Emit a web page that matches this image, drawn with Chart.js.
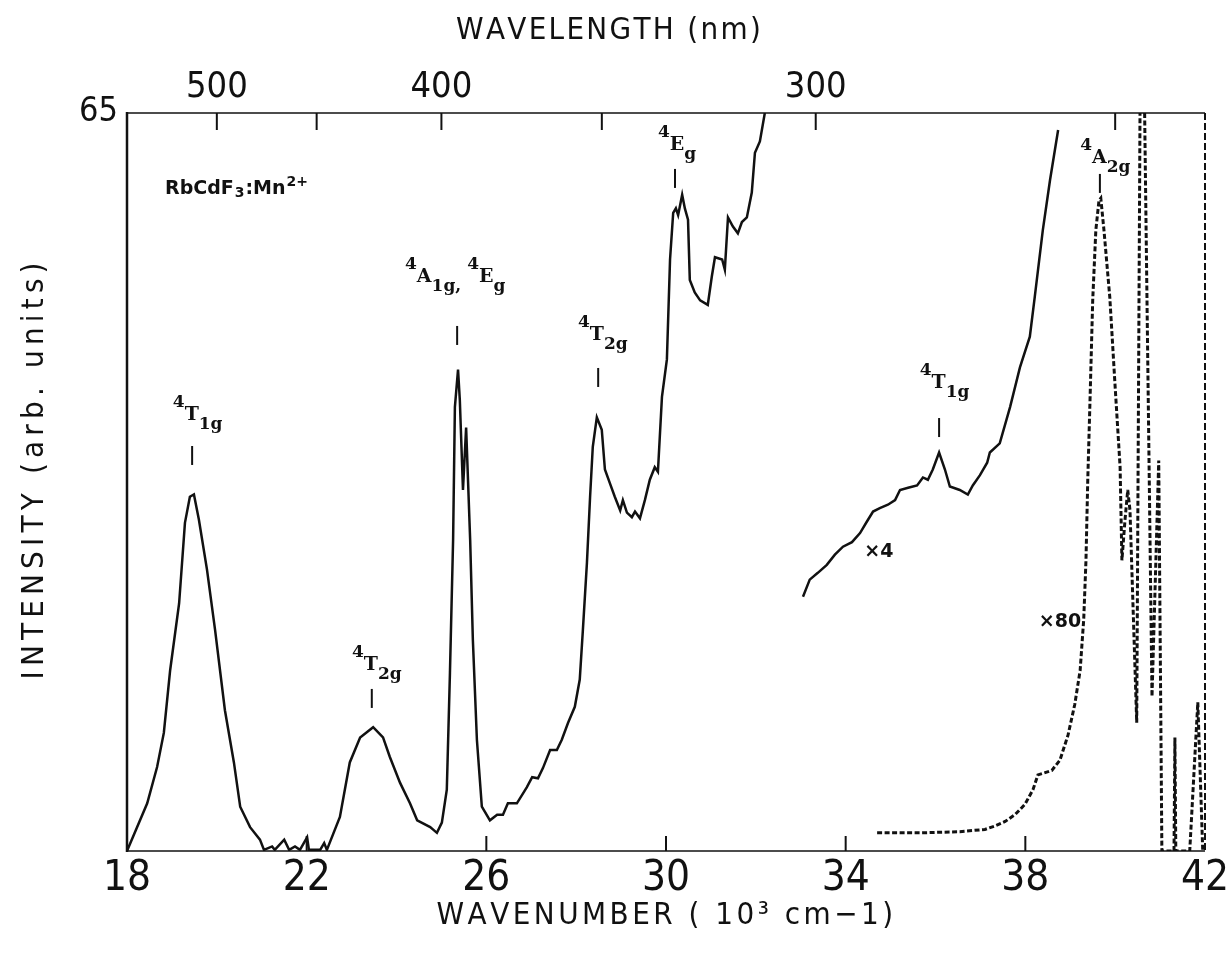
<!DOCTYPE html>
<html>
<head>
<meta charset="utf-8">
<script src="https://cdn.jsdelivr.net/npm/chart.js@4.4.1/dist/chart.umd.min.js"></script>
<style>
  body { margin: 0; background: #fff; }
  #spectrum { display: block; }
</style>
</head>
<body>
<canvas id="spectrum" width="1228" height="956"></canvas>
<script>
// main spectrum, wavenumber in 10^3 cm-1, intensity in arb. units
const mainX = [18.00, 18.45, 18.67, 18.82, 18.96, 19.16, 19.29, 19.40, 19.49, 19.60, 19.78, 19.96, 20.18, 20.38, 20.52, 20.74, 20.96, 21.05, 21.23, 21.29, 21.50, 21.61, 21.74, 21.85, 22.01, 22.05, 22.30, 22.39, 22.45, 22.74, 22.96, 23.19, 23.48, 23.70, 23.85, 24.08, 24.30, 24.46, 24.75, 24.90, 25.01, 25.12, 25.19, 25.26, 25.30, 25.37, 25.41, 25.48, 25.55, 25.64, 25.70, 25.79, 25.90, 26.08, 26.24, 26.37, 26.48, 26.68, 26.90, 27.02, 27.15, 27.26, 27.42, 27.57, 27.68, 27.82, 27.97, 28.08, 28.15, 28.24, 28.31, 28.37, 28.46, 28.57, 28.64, 28.75, 28.86, 28.98, 29.04, 29.13, 29.24, 29.31, 29.42, 29.53, 29.64, 29.75, 29.82, 29.91, 30.02, 30.09, 30.16, 30.22, 30.27, 30.36, 30.42, 30.49, 30.53, 30.64, 30.76, 30.93, 31.02, 31.09, 31.25, 31.31, 31.38, 31.49, 31.60, 31.69, 31.80, 31.91, 31.98, 32.09, 32.20];
const mainY = [0.0, 4.2, 7.4, 10.4, 15.9, 21.8, 28.9, 31.2, 31.4, 29.2, 24.8, 19.5, 12.4, 7.8, 3.9, 2.1, 1.0, 0.1, 0.4, 0.1, 1.0, 0.1, 0.4, 0.1, 1.2, 0.1, 0.1, 0.7, 0.1, 3.0, 7.8, 10.0, 10.9, 10.0, 8.3, 6.0, 4.2, 2.7, 2.1, 1.6, 2.5, 5.4, 15.7, 27.4, 39.1, 42.4, 39.7, 31.8, 37.3, 27.4, 18.6, 9.8, 3.9, 2.7, 3.2, 3.2, 4.2, 4.2, 5.6, 6.5, 6.4, 7.3, 8.9, 8.9, 9.8, 11.3, 12.7, 15.1, 19.5, 25.4, 31.2, 35.6, 38.2, 37.1, 33.6, 32.4, 31.2, 30.0, 30.9, 29.8, 29.4, 29.9, 29.3, 30.9, 32.7, 33.8, 33.4, 40.0, 43.3, 52.1, 56.2, 56.6, 56.0, 57.8, 56.6, 55.6, 50.3, 49.2, 48.5, 48.1, 50.6, 52.3, 52.1, 51.2, 55.8, 55.0, 54.4, 55.4, 55.8, 58.0, 61.5, 62.5, 65.0];

// section recorded at x4
const x4X = [33.05, 33.20, 33.38, 33.58, 33.76, 33.94, 34.14, 34.32, 34.47, 34.61, 34.76, 34.94, 35.10, 35.21, 35.39, 35.59, 35.72, 35.83, 35.94, 36.08, 36.21, 36.32, 36.54, 36.72, 36.83, 36.99, 37.15, 37.21, 37.43, 37.66, 37.88, 38.10, 38.21, 38.39, 38.55, 38.73];
const x4Y = [22.4, 23.9, 24.5, 25.2, 26.1, 26.8, 27.2, 28.0, 29.0, 29.9, 30.2, 30.5, 30.9, 31.8, 32.0, 32.2, 32.9, 32.7, 33.6, 35.1, 33.6, 32.1, 31.8, 31.4, 32.2, 33.1, 34.2, 35.1, 35.9, 39.1, 42.6, 45.3, 48.8, 54.7, 59.1, 63.5];

// section recorded at x80 (dashed)
const x80X = [34.70, 35.65, 36.54, 37.10, 37.32, 37.55, 37.77, 37.99, 38.17, 38.28, 38.44, 38.59, 38.77, 38.95, 39.10, 39.22, 39.30, 39.35, 39.39, 39.44, 39.50, 39.57, 39.64, 39.68, 39.75, 39.88, 39.99, 40.11, 40.15, 40.22, 40.28, 40.33, 40.48, 40.56, 40.64, 40.82, 40.97, 41.04, 41.31, 41.33, 41.35, 41.66, 41.84, 41.95];
const x80Y = [1.6, 1.6, 1.7, 1.9, 2.2, 2.6, 3.2, 4.1, 5.4, 6.7, 6.9, 7.1, 8.0, 10.2, 12.9, 15.9, 20.4, 25.6, 32.7, 39.7, 48.5, 54.7, 57.3, 57.5, 54.7, 48.8, 41.5, 33.8, 25.6, 29.2, 31.8, 30.0, 11.3, 70.0, 70.0, 13.6, 34.4, 0.0, 0.0, 10.0, 0.0, 0.0, 13.1, 0.0];

const wavenumberTicks = [18, 22, 26, 30, 34, 38, 42];
const wavelengthTicks = [500, 450, 400, 350, 300, 250];
const wavelengthLabels = [500, 400, 300];
const intensityLabels = [65];

// peak assignments: bar position (x, yBar) and text anchor (tx, ty) in data units
const peakLabels = [
  { x: 19.45, yBar: 34.0, tx: 19.02, ty: 37.96, parts: [['sup', '4'], ['main', 'T'], ['sub', '1g']] },
  { x: 23.45, yBar: 12.6, tx: 23.01, ty: 15.94, parts: [['sup', '4'], ['main', 'T'], ['sub', '2g']] },
  { x: 25.35, yBar: 44.57, tx: 24.19, ty: 50.12, parts: [['sup', '4'], ['main', 'A'], ['sub', '1g, '], ['sup', '4'], ['main', 'E'], ['sub', 'g']] },
  { x: 28.49, yBar: 40.87, tx: 28.04, ty: 45.01, parts: [['sup', '4'], ['main', 'T'], ['sub', '2g']] },
  { x: 30.20, yBar: 58.4, tx: 29.82, ty: 61.76, parts: [['sup', '4'], ['main', 'E'], ['sub', 'g']] },
  { x: 36.08, yBar: 36.46, tx: 35.65, ty: 40.78, parts: [['sup', '4'], ['main', 'T'], ['sub', '1g']] },
  { x: 39.66, yBar: 57.96, tx: 39.22, ty: 60.60, parts: [['sup', '4'], ['main', 'A'], ['sub', '2g']] }
];

const gainLabels = [
  { x: 34.74, y: 26.3, text: '×4' },
  { x: 38.77, y: 20.2, text: '×80' }
];

function toPoints(xs, ys) {
  return xs.map((v, i) => ({ x: v, y: ys[i] }));
}

function spacedText(ctx, text, cx, cy, width, font, angle) {
  ctx.save();
  ctx.font = font;
  ctx.translate(cx, cy);
  if (angle) ctx.rotate(angle);
  ctx.textBaseline = 'middle';
  ctx.textAlign = 'left';
  const chars = Array.from(text);
  const w = ctx.measureText(text).width;
  const gap = (width - w) / (chars.length - 1);
  let pos = -width / 2;
  for (const ch of chars) {
    ctx.fillText(ch, pos, 0);
    pos += ctx.measureText(ch).width + gap;
  }
  ctx.restore();
}

function line(ctx, x1, y1, x2, y2) {
  ctx.beginPath();
  ctx.moveTo(x1, y1);
  ctx.lineTo(x2, y2);
  ctx.stroke();
}

const decorations = {
  id: 'decorations',
  afterDatasetsDraw(chart) {
    const { ctx, chartArea: a, scales: { x, y } } = chart;
    ctx.save();
    ctx.strokeStyle = '#111';
    ctx.fillStyle = '#111';

    // frame
    ctx.lineWidth = 2.5;
    line(ctx, a.left, a.top - 1, a.left, a.bottom + 1);
    ctx.lineWidth = 1.5;
    line(ctx, a.left, a.top, a.right, a.top);
    line(ctx, a.left, a.bottom, a.right, a.bottom);
    ctx.setLineDash([7, 3]);
    ctx.lineWidth = 2;
    line(ctx, a.right, a.top, a.right, a.bottom);
    ctx.setLineDash([]);

    // inward tick marks
    ctx.lineWidth = 2;
    wavenumberTicks.slice(1, -1).forEach(v => {
      const px = x.getPixelForValue(v);
      line(ctx, px, a.bottom, px, a.bottom - 15);
    });
    wavelengthTicks.forEach(nm => {
      const px = x.getPixelForValue(1e4 / nm);
      line(ctx, px, a.top, px, a.top + 17);
    });

    // tick labels
    ctx.textAlign = 'center';
    ctx.textBaseline = 'middle';
    ctx.font = '42px "Liberation Sans Narrow", "DejaVu Sans Condensed", sans-serif';
    wavenumberTicks.forEach(v => {
      ctx.fillText(String(v), x.getPixelForValue(v), a.bottom + 28);
    });
    ctx.font = '36px "Liberation Sans Narrow", "DejaVu Sans Condensed", sans-serif';
    wavelengthLabels.forEach(nm => {
      ctx.fillText(String(nm), x.getPixelForValue(1e4 / nm), a.top - 25);
    });
    ctx.textAlign = 'right';
    ctx.font = '34px "Liberation Sans Narrow", "DejaVu Sans Condensed", sans-serif';
    intensityLabels.forEach(v => {
      ctx.fillText(String(v), a.left - 9, y.getPixelForValue(v) - 1);
    });

    // axis titles
    const titleFont = '31px "Liberation Sans Narrow", "DejaVu Sans Condensed", sans-serif';
    spacedText(ctx, 'WAVELENGTH (nm)', 606, 31, 300, titleFont, 0);
    spacedText(ctx, 'WAVENUMBER ( 10³ cm−1)', 663, 916, 453, titleFont, 0);
    spacedText(ctx, 'INTENSITY (arb. units)', 35, 471, 417, titleFont, -Math.PI / 2);

    // peak assignments
    ctx.textAlign = 'left';
    ctx.textBaseline = 'alphabetic';
    ctx.lineWidth = 2;
    peakLabels.forEach(p => {
      const bx = x.getPixelForValue(p.x);
      const by = y.getPixelForValue(p.yBar);
      line(ctx, bx, by, bx, by - 19);
      let tx = x.getPixelForValue(p.tx);
      const ty = y.getPixelForValue(p.ty);
      p.parts.forEach(([kind, str]) => {
        let dy = 0;
        if (kind === 'main') {
          ctx.font = 'bold 19px "DejaVu Serif", serif';
        } else {
          ctx.font = 'bold 17px "DejaVu Serif", serif';
          dy = kind === 'sup' ? -13 : 9;
        }
        ctx.fillText(str, tx, ty + dy);
        tx += ctx.measureText(str).width;
      });
    });

    // gain factors
    ctx.textAlign = 'center';
    ctx.textBaseline = 'middle';
    ctx.font = 'bold 19px "DejaVu Sans", sans-serif';
    gainLabels.forEach(g => {
      ctx.fillText(g.text, x.getPixelForValue(g.x), y.getPixelForValue(g.y));
    });

    // sample name
    ctx.textAlign = 'left';
    ctx.textBaseline = 'alphabetic';
    let sx = 165;
    const sy = 194;
    [['RbCdF', 19, 0], ['3', 14, 3], [':Mn', 19, 0], ['2+', 14, -8]].forEach(([str, size, dy]) => {
      ctx.font = 'bold ' + size + 'px "DejaVu Sans", sans-serif';
      ctx.fillText(str, sx, sy + dy);
      sx += ctx.measureText(str).width + 1;
    });

    ctx.restore();
  }
};

const ctx = document.getElementById('spectrum');

new Chart(ctx, {
  type: 'line',
  data: {
    datasets: [
      {
        label: 'RbCdF3:Mn2+',
        data: toPoints(mainX, mainY),
        borderColor: '#111',
        borderWidth: 2.5,
        pointRadius: 0,
        tension: 0
      },
      {
        label: 'x4',
        data: toPoints(x4X, x4Y),
        borderColor: '#111',
        borderWidth: 2.5,
        pointRadius: 0,
        tension: 0
      },
      {
        label: 'x80',
        data: toPoints(x80X, x80Y),
        borderColor: '#111',
        borderWidth: 3,
        borderDash: [5, 2.5],
        pointRadius: 0,
        tension: 0
      }
    ]
  },
  options: {
    responsive: false,
    animation: false,
    devicePixelRatio: 1,
    layout: {
      padding: { left: 127, right: 23, top: 113, bottom: 105 }
    },
    scales: {
      x: {
        type: 'linear',
        min: 18,
        max: 42,
        display: false
      },
      y: {
        type: 'linear',
        min: 0,
        max: 65,
        display: false
      }
    },
    plugins: {
      legend: { display: false },
      tooltip: { enabled: false }
    }
  },
  plugins: [decorations]
});
</script>
</body>
</html>
